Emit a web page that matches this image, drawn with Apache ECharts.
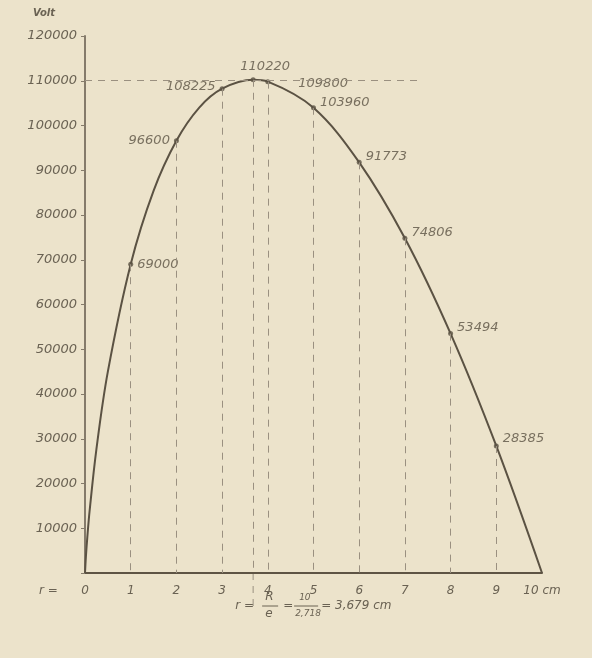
<!DOCTYPE html>
<html><head><meta charset="utf-8">
<script src="https://cdn.jsdelivr.net/npm/echarts@6/dist/echarts.min.js"></script>
<style>html,body{margin:0;padding:0;background:#ece3cb;}#c{width:592px;height:658px;}</style>
</head><body><div id="c"></div>
<script>
// curve samples (r in cm, V in volt)
const curveR = [0, 0.02, 0.05, 0.1, 0.25, 0.5, 1, 1.5, 2, 2.5, 3, 3.679, 4, 5, 6, 7, 8, 9, 10];
const curveV = [0, 3700, 7900, 13800, 27700, 45000, 69000, 85400, 96600, 104000, 108225, 110220, 109800, 103960, 91773, 74806, 53494, 28385, 0];
// marked points
const pointR = [1, 2, 3, 3.679, 4, 5, 6, 7, 8, 9];
const pointV = [69000, 96600, 108225, 110220, 109800, 103960, 91773, 74806, 53494, 28385];
const pointLabelPos = ['right', 'left', 'left', 'top', 'right', 'right', 'right', 'right', 'right', 'right'];
const pointLabelShift = [[0, 0], [0, 0], [0, -2], [12, 0], [24, 2], [0, -5], [0, -6], [0, -6], [0, -6], [0, -7]];
const xTicks = [0, 1, 2, 3, 4, 5, 6, 7, 8, 9, 10];
const peakR = 3.679, peakV = 110220, hLineEnd = 7.3;

const ink = '#5b5243', txt = '#6a6253', dash = '#9a9080';
const chart = echarts.init(document.getElementById('c'));
const font = 'DejaVu Sans';
chart.setOption({
  backgroundColor: '#ece3cb',
  animation: false,
  grid: {left: 85, right: 50, top: 36, bottom: 85},
  xAxis: {type: 'value', min: 0, max: 10, interval: 1,
    axisLine: {lineStyle: {color: '#5e5444', width: 2}},
    axisTick: {show: false}, splitLine: {show: false},
    axisLabel: {margin: 12, color: txt, fontStyle: 'italic', fontFamily: font, fontSize: 12,
      formatter: v => v === 10 ? '10 cm' : String(v)}},
  yAxis: {type: 'value', min: 0, max: 120000, interval: 10000,
    name: 'Volt', nameLocation: 'end', nameGap: 18,
    nameTextStyle: {color: txt, fontStyle: 'italic', fontFamily: font, fontSize: 10, fontWeight: 'bold', align: 'right', padding: [0, 30, 0, 0]},
    axisLine: {lineStyle: {color: '#857b6b', width: 2}},
    axisTick: {show: true, length: 4, lineStyle: {color: '#857b6b'}},
    splitLine: {show: false},
    axisLabel: {margin: 8, color: txt, fontStyle: 'italic', fontFamily: font, fontSize: 13,
      formatter: v => v === 0 ? '' : String(v)}},
  series: [
    {type: 'line', data: curveR.map((r, i) => [r, curveV[i]]), smooth: 0.35, showSymbol: false,
      lineStyle: {color: ink, width: 2}, z: 3,
      markLine: {silent: true, symbol: 'none', label: {show: false},
        lineStyle: {color: dash, type: [7, 6], width: 1},
        data: pointR.map((r, i) => [{coord: [r, pointV[i]]}, {coord: [r, 0]}])
          .concat([[{coord: [0, peakV]}, {coord: [hLineEnd, peakV]}]])}},
    {type: 'scatter', data: pointR.map((r, i) => ({value: [r, pointV[i]],
        label: {position: pointLabelPos[i], offset: pointLabelShift[i]}})),
      symbolSize: 5, itemStyle: {color: ink}, z: 4,
      label: {show: true, formatter: p => String(p.value[1]), color: ink, fontStyle: 'italic',
        fontFamily: font, fontSize: 13, distance: 4}}
  ]
});
// annotations positioned via the chart's own scales
const p0 = chart.convertToPixel('grid', [0, 0]);
const pk = chart.convertToPixel('grid', [peakR, 0]);
const ts = {fill: txt, fontStyle: 'italic', fontFamily: font, fontSize: 12};
chart.setOption({graphic: [
  {type: 'text', left: p0[0] - 46, top: p0[1] + 12, style: Object.assign({text: 'r ='}, ts)},
  {type: 'line', shape: {x1: pk[0], y1: p0[1], x2: pk[0], y2: p0[1] + 34}, style: {stroke: dash, lineDash: [7, 6], lineWidth: 1}},
  {type: 'text', x: pk[0] - 18, y: p0[1] + 27, style: Object.assign({text: 'r ='}, ts)},
  {type: 'text', x: pk[0] + 12, y: p0[1] + 18, style: Object.assign({text: 'R'}, ts)},
  {type: 'line', shape: {x1: pk[0] + 9, y1: p0[1] + 33, x2: pk[0] + 25, y2: p0[1] + 33}, style: {stroke: txt, lineWidth: 1}},
  {type: 'text', x: pk[0] + 12, y: p0[1] + 35, style: Object.assign({text: 'e'}, ts)},
  {type: 'text', x: pk[0] + 30, y: p0[1] + 27, style: Object.assign({text: '='}, ts)},
  {type: 'text', x: pk[0] + 46, y: p0[1] + 20, style: Object.assign({}, ts, {text: '10', fontSize: 9})},
  {type: 'line', shape: {x1: pk[0] + 41, y1: p0[1] + 33, x2: pk[0] + 65, y2: p0[1] + 33}, style: {stroke: txt, lineWidth: 1}},
  {type: 'text', x: pk[0] + 42, y: p0[1] + 36, style: Object.assign({}, ts, {text: '2,718', fontSize: 9})},
  {type: 'text', x: pk[0] + 68, y: p0[1] + 27, style: Object.assign({text: '= 3,679 cm'}, ts)}
]});
</script></body></html>
